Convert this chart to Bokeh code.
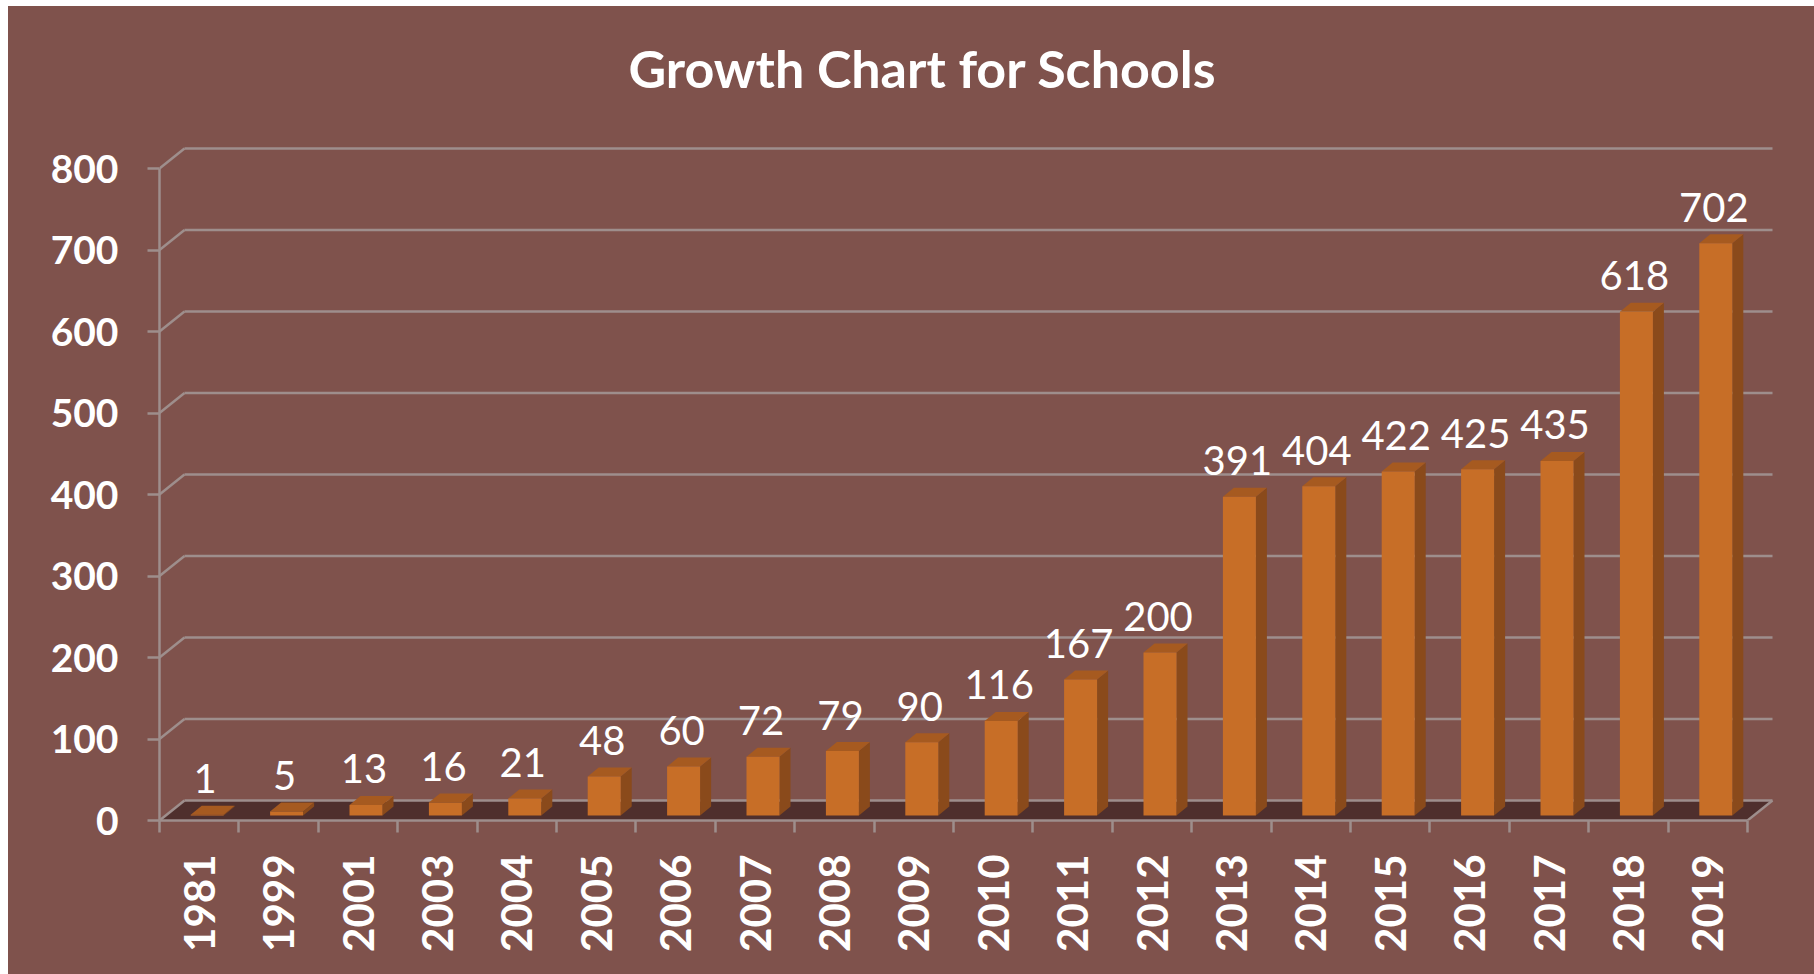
import numpy as np
from bokeh.plotting import figure
from bokeh.layouts import column, row
from bokeh.models import Range1d, FixedTicker, ColumnDataSource, Spacer
from bokeh.core.properties import value
from bokeh.embed import file_html
from bokeh.resources import INLINE

# ---- data ----
years = ["1981", "1999", "2001", "2003", "2004", "2005", "2006", "2007", "2008", "2009",
         "2010", "2011", "2012", "2013", "2014", "2015", "2016", "2017", "2018", "2019"]
schools = [1, 5, 13, 16, 21, 48, 60, 72, 79, 90, 116, 167, 200, 391, 404, 422, 425, 435, 618, 702]
y_ticks = [0, 100, 200, 300, 400, 500, 600, 700, 800]
title_text = "Growth Chart for Schools"

# ---- style / geometry ----
BG = "#7F524C"
GRID = "#9E8E8C"
FLOOR = "#4F2F2D"
FRONT = "#C76E27"
SIDE = "#8A4A1B"
TOP = "#A65A20"
FONT = "Lato"

CANVAS_W = 1806
CANVAS_H = 968
LEFT = 151
BOTTOM = 154
FRAME_W = CANVAS_W - LEFT
FRAME_H = CANVAS_H - BOTTOM

PX_X = 79.4      # pixels per category
PX_Y = 0.815     # pixels per value unit

DX = 25 / PX_X   # floor depth (x, data units)
DY = 20 / PX_Y   # floor depth (y, data units)
BAR_SHIFT = 8 / PX_X
BAR_HALF = 33 / 2 / PX_X
BAR_BASE = 5 / PX_Y
BDX = 11 / PX_X
BDY = 9 / PX_Y
LABEL_GAP = 36 / PX_Y
LABEL_SHIFT = -2 / PX_X

n = len(years)
idx = np.arange(n)

p = figure(frame_width=FRAME_W, frame_height=FRAME_H,
           x_range=Range1d(-0.5, -0.5 + FRAME_W / PX_X),
           y_range=Range1d(0, FRAME_H / PX_Y),
           output_backend="svg", toolbar_location=None, title=None,
           min_border_left=LEFT, min_border_right=0, min_border_top=0,
           min_border_bottom=BOTTOM)
p.background_fill_color = None
p.border_fill_color = None
p.styles = {"background-color": BG}
p.outline_line_color = None
p.xgrid.visible = False
p.ygrid.visible = False

# floor
left_edge = -0.5
right_edge = n - 0.5
p.patch([left_edge, right_edge, right_edge + DX, left_edge + DX], [0, 0, DY, DY],
        fill_color=FLOOR, line_color=None)

# back-wall gridlines with diagonals from the front axis
gx0, gx1, gy0, gy1 = [], [], [], []
for v in y_ticks:
    gx0 += [left_edge, left_edge + DX]
    gy0 += [v, v + DY]
    gx1 += [left_edge + DX, right_edge + DX]
    gy1 += [v + DY, v + DY]
gx0.append(right_edge); gy0.append(0); gx1.append(right_edge + DX); gy1.append(DY)
p.segment(gx0, gy0, gx1, gy1, line_color=GRID, line_width=2.5)

# bars
xc = idx + BAR_SHIFT
xl = xc - BAR_HALF
xr = xc + BAR_HALF
vals = np.array(schools, dtype=float)
top = BAR_BASE + vals

side_xs = [[a, a, a + BDX, a + BDX] for a in xr]
side_ys = [[BAR_BASE, t, t + BDY, BAR_BASE + BDY] for t in top]
top_xs = [[l, r, r + BDX, l + BDX] for l, r in zip(xl, xr)]
top_ys = [[t, t, t + BDY, t + BDY] for t in top]

p.patches(side_xs, side_ys, fill_color=SIDE, line_color=None)
p.patches(top_xs, top_ys, fill_color=TOP, line_color=None)
p.quad(left=xl, right=xr, bottom=BAR_BASE, top=top, fill_color=FRONT, line_color=None)

# data labels
src = ColumnDataSource(dict(x=xc + LABEL_SHIFT, y=top + LABEL_GAP, t=[str(s) for s in schools]))
p.text(x="x", y="y", text="t", source=src, text_color="white",
       text_font=value(FONT), text_font_size="40px",
       text_align="center", text_baseline="alphabetic")

# title
p.text(x=[(922 - 8 - LEFT) / PX_X - 0.5], y=[(820 - 67) / PX_Y], text=[title_text],
       text_color="white", text_font=value(FONT), text_font_style="bold",
       text_font_size="52px", text_align="center", text_baseline="middle")

# axes
xa = p.xaxis[0]
xa.ticker = FixedTicker(ticks=list(idx), minor_ticks=[i - 0.5 for i in range(n + 1)])
xa.major_label_overrides = {int(i): y for i, y in zip(idx, years)}
xa.bounds = (left_edge, right_edge)
xa.axis_line_color = GRID
xa.axis_line_width = 2.5
xa.major_tick_in = 0
xa.major_tick_out = 0
xa.major_tick_line_color = None
xa.minor_tick_in = 0
xa.minor_tick_out = 12
xa.minor_tick_line_color = GRID
xa.minor_tick_line_width = 2.5
xa.major_label_orientation = np.pi / 2
xa.major_label_standoff = 22
xa.major_label_text_color = "white"
xa.major_label_text_font = FONT
xa.major_label_text_font_style = "bold"
xa.major_label_text_font_size = "42px"

ya = p.yaxis[0]
ya.ticker = FixedTicker(ticks=y_ticks, minor_ticks=[])
ya.bounds = (0, 800)
ya.axis_line_color = GRID
ya.axis_line_width = 2.5
ya.major_tick_in = 0
ya.major_tick_out = 12
ya.major_tick_line_color = GRID
ya.major_tick_line_width = 2.5
ya.minor_tick_line_color = None
ya.major_label_standoff = 29
ya.major_label_text_color = "white"
ya.major_label_text_font = FONT
ya.major_label_text_font_style = "bold"
ya.major_label_text_font_size = "39px"

layout = column(Spacer(height=6), row(Spacer(width=8), p))
open("out.html", "w").write(file_html(layout, INLINE))
